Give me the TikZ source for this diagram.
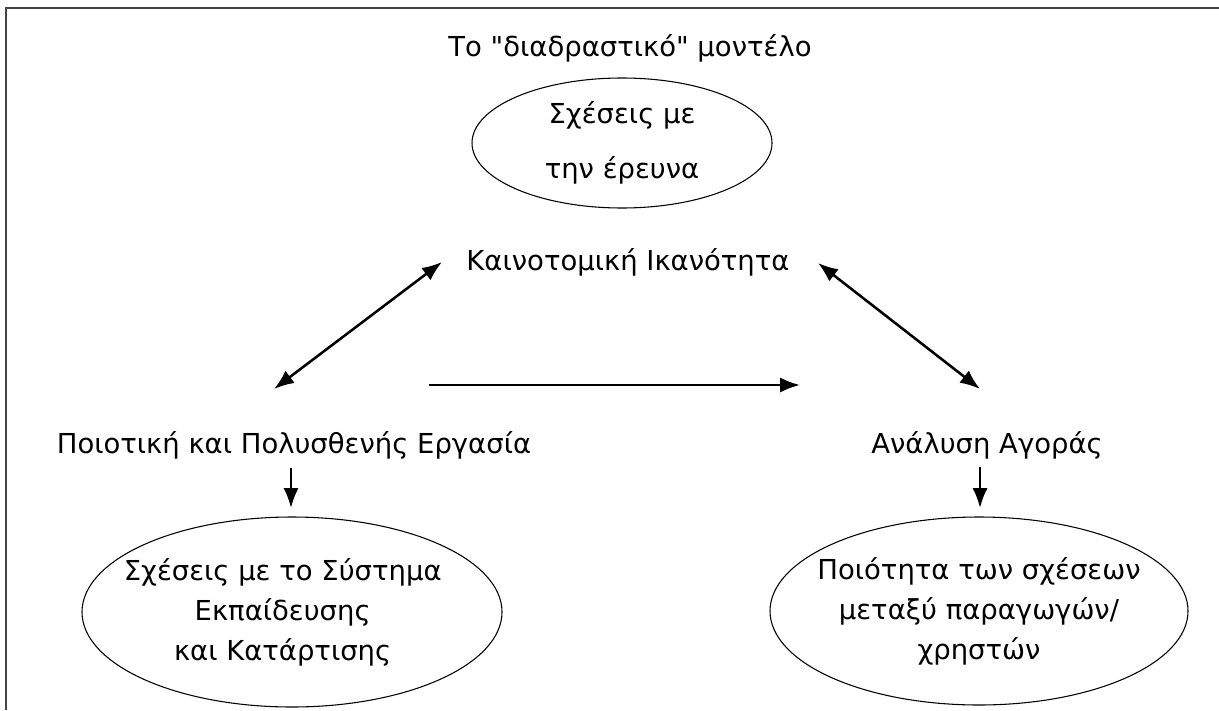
\documentclass[tikz,border=0pt]{standalone}
\usepackage{fontspec}
\newfontfamily\dejav{DejaVu Sans}
\usetikzlibrary{shapes.geometric,arrows.meta}
\definecolor{framegray}{HTML}{454545}
\begin{document}
\begin{tikzpicture}[x=0.75pt,y=-0.75pt,
  txt/.style={font=\dejav\fontsize{20.6}{24}\selectfont, inner sep=0pt},
  lines/.style={font=\dejav\fontsize{20.6}{30}\selectfont, inner sep=0pt, align=center},
  oval/.style={draw, ellipse, line width=0.8pt, inner sep=0pt},
  arr/.style={line width=1.9pt, -{Latex[length=15pt,width=11.5pt]}},
  darr/.style={line width=1.9pt, {Latex[length=15pt,width=11.5pt]}-{Latex[length=15pt,width=11.5pt]}},
  framel/.style={draw=framegray, line width=1.6pt}]
\useasboundingbox (0,0) rectangle (1219,710);
\path[framel] (6,710) -- (6,8) -- (1219,8);

\node[txt] (title) at (630,48) {Το "διαδραστικό" μοντέλο};
\node[oval, minimum width=225pt, minimum height=97.5pt] (res) at (622,143) {};
\node[lines] (rest) at (res.center) {Σχέσεις με\\[11pt]την έρευνα};
\node[txt] (kain) at (628,262) {Καινοτομική Ικανότητα};
\node[txt] (work) at (294,445) {Ποιοτική και Πολυσθενής Εργασία};
\node[txt] (market) at (987,445) {Ανάλυση Αγοράς};
\node[oval, minimum width=315pt, minimum height=142.5pt] (edu) at (292,612) {};
\node[lines] (edut) at ([xshift=-7pt]edu.center) {Σχέσεις με το Σύστημα\\Εκπαίδευσης\\και Κατάρτισης};
\node[oval, minimum width=313.5pt, minimum height=141pt] (qual) at (979,611) {};
\node[lines] (qualt) at (qual.center) {Ποιότητα των σχέσεων\\μεταξύ παραγωγών/\\χρηστών};

\coordinate (d1a) at (274,389);
\coordinate (d1b) at (442,262);
\coordinate (d2a) at (818,263);
\coordinate (d2b) at (980,389);
\coordinate (h1) at (429,385);
\coordinate (h2) at (800,385);
\coordinate (v1a) at (291,468);
\coordinate (v1b) at (291,508);
\coordinate (v2a) at (980,467);
\coordinate (v2b) at (980,508);

\draw[darr] (d1a) -- (d1b);
\draw[darr] (d2a) -- (d2b);
\draw[arr] (h1) -- (h2);
\draw[arr] (v1a) -- (v1b);
\draw[arr] (v2a) -- (v2b);
\end{tikzpicture}
\end{document}
